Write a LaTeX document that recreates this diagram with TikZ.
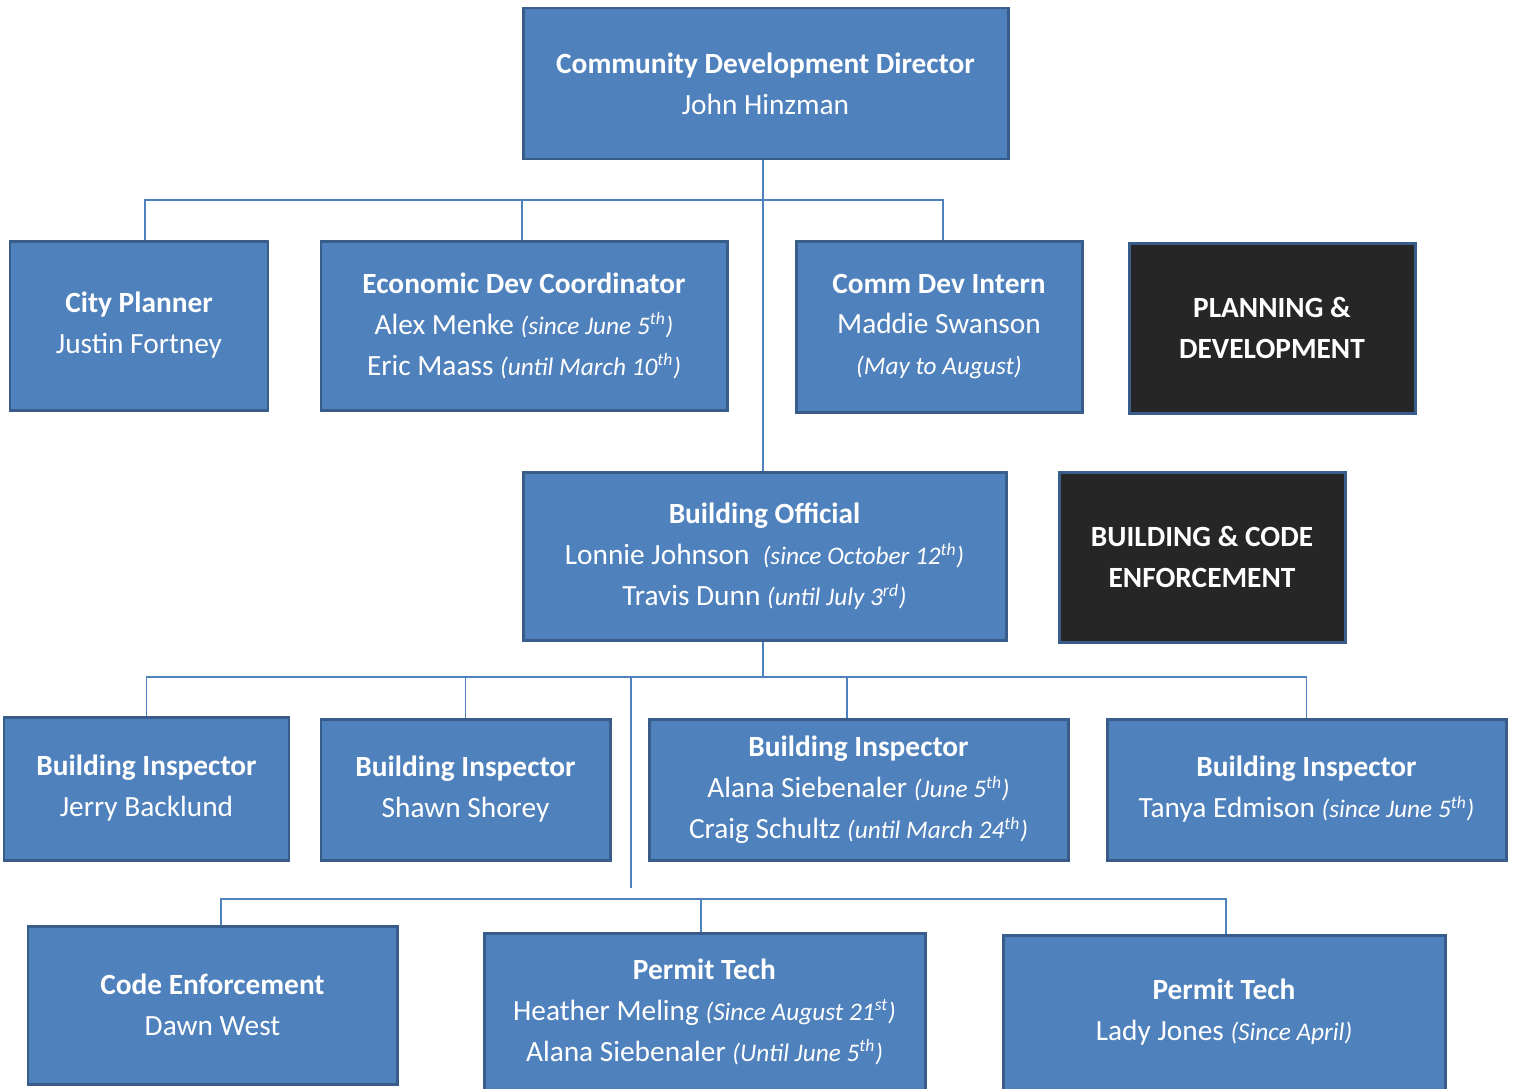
\documentclass[tikz,border=0pt]{standalone}
\usepackage{fontspec}
\setmainfont{Carlito}
\usetikzlibrary{positioning,calc}
\definecolor{boxblue}{HTML}{4F81BD}
\definecolor{boxedge}{HTML}{385D8A}
\definecolor{darkbox}{HTML}{262626}
\newcommand{\datenote}[1]{{\fontsize{14.4}{23.3}\selectfont\itshape(#1)}}
\newcommand{\ord}[1]{\textsuperscript{#1}}
\tikzset{
	orgbox/.style={draw=boxedge, line width=1.7pt, fill=boxblue, text=white, align=center, inner sep=0pt, font=\fontsize{16.7}{23.3}\selectfont},
	deptbox/.style={orgbox, fill=darkbox, draw=boxedge},
	conn/.style={draw=boxblue, line width=0.85pt}
}

\begin{document}
\begin{tikzpicture}
	\useasboundingbox (0,0) rectangle (30.26,-21.76);
	% top level
	\node[orgbox, minimum width=9.70cm, minimum height=3.02cm] (dir) at (15.31,-1.67) {\textbf{Community Development Director}\\John Hinzman};
	% planning row
	\node[orgbox, minimum width=5.16cm, minimum height=3.38cm] (cp) at (2.78,-6.51) {\textbf{City Planner}\\Justin Fortney};
	\node[orgbox, minimum width=8.12cm, minimum height=3.38cm] (eco) at (10.48,-6.51) {\textbf{Economic Dev Coordinator}\\Alex Menke \datenote{since June 5\ord{th}}\\Eric Maass \datenote{until March 10\ord{th}}};
	\node[orgbox, minimum width=5.72cm, minimum height=3.42cm] (intern) at (18.78,-6.53) {\textbf{Comm Dev Intern}\\Maddie Swanson\\\datenote{May to August}};
	\node[deptbox, minimum width=5.72cm, minimum height=3.40cm] (plan) at (25.44,-6.56) {\textbf{PLANNING \&}\\\textbf{DEVELOPMENT}};
	% building official
	\node[orgbox, minimum width=9.66cm, minimum height=3.36cm] (bo) at (15.29,-11.12) {\textbf{Building Official}\\Lonnie Johnson\ \ \datenote{since October 12\ord{th}}\\Travis Dunn \datenote{until July 3\ord{rd}}};
	\node[deptbox, minimum width=5.72cm, minimum height=3.40cm] (bce) at (24.04,-11.14) {\textbf{BUILDING \& CODE}\\\textbf{ENFORCEMENT}};
	% inspectors
	\node[orgbox, minimum width=5.70cm, minimum height=2.86cm] (bi1) at (2.93,-15.77) {\textbf{Building Inspector}\\Jerry Backlund};
	\node[orgbox, minimum width=5.78cm, minimum height=2.82cm] (bi2) at (9.31,-15.79) {\textbf{Building Inspector}\\Shawn Shorey};
	\node[orgbox, minimum width=8.38cm, minimum height=2.82cm] (bi3) at (17.17,-15.79) {\textbf{Building Inspector}\\Alana Siebenaler \datenote{June 5\ord{th}}\\Craig Schultz \datenote{until March 24\ord{th}}};
	\node[orgbox, minimum width=7.98cm, minimum height=2.82cm] (bi4) at (26.13,-15.79) {\textbf{Building Inspector}\\Tanya Edmison \datenote{since June 5\ord{th}}};
	% bottom row
	\node[orgbox, minimum width=7.38cm, minimum height=3.16cm] (code) at (4.25,-20.10) {\textbf{Code Enforcement}\\Dawn West};
	\node[orgbox, minimum width=8.82cm, minimum height=3.14cm] (pt1) at (14.09,-20.23) {\textbf{Permit Tech}\\Heather Meling \datenote{Since August 21\ord{st}}\\Alana Siebenaler \datenote{Until June 5\ord{th}}};
	\node[orgbox, minimum width=8.84cm, minimum height=3.10cm] (pt2) at (24.48,-20.25) {\textbf{Permit Tech}\\Lady Jones \datenote{Since April}};

	% connectors
	\coordinate (busA) at (0,-4.00);
	\coordinate (busB) at (0,-13.54);
	\coordinate (busC) at (0,-17.98);
	\coordinate (stub) at (12.62,-17.76);
	\draw[conn] ([xshift=-0.05cm]dir.south) -- ([xshift=-0.05cm]dir.south |- bo.north);
	\draw[conn] ([xshift=0.12cm]cp.north) -- ([xshift=0.12cm]cp.north |- busA) -- ([xshift=0.08cm]intern.north |- busA) -- ([xshift=0.08cm]intern.north);
	\draw[conn] ([xshift=-0.04cm]eco.north) -- ([xshift=-0.04cm]eco.north |- busA);
	\draw[conn] ([xshift=-0.03cm]bo.south) -- ([xshift=-0.03cm]bo.south |- busB);
	\draw[conn] (bi1.north) -- (bi1.north |- busB) -- (bi4.north |- busB) -- (bi4.north);
	\draw[conn] (bi2.north) -- (bi2.north |- busB);
	\draw[conn] ([xshift=-0.23cm]bi3.north) -- ([xshift=-0.23cm]bi3.north |- busB);
	\draw[conn] (stub |- busB) -- (stub);
	\draw[conn] ([xshift=0.17cm]code.north) -- ([xshift=0.17cm]code.north |- busC) -- ([xshift=0.04cm]pt2.north |- busC) -- ([xshift=0.04cm]pt2.north);
	\draw[conn] ([xshift=-0.07cm]pt1.north) -- ([xshift=-0.07cm]pt1.north |- busC);
\end{tikzpicture}
\end{document}
